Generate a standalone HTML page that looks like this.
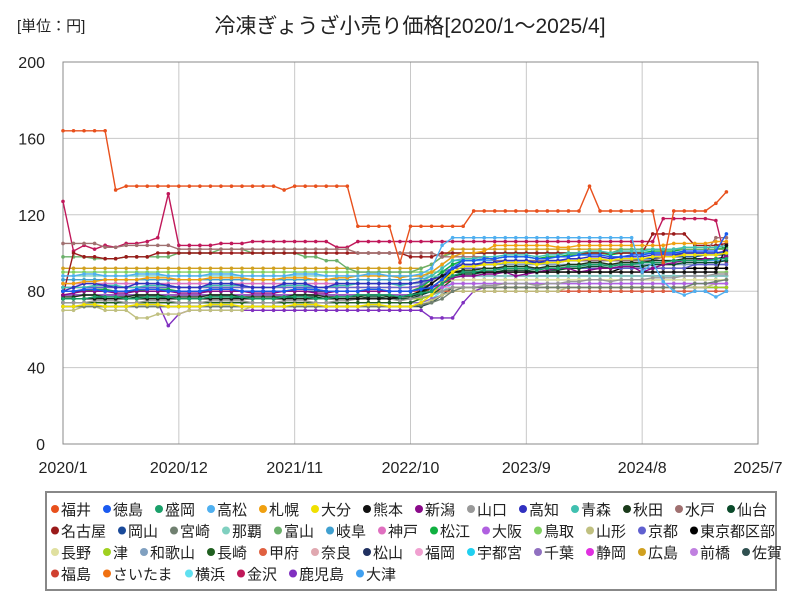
<!DOCTYPE html>
<html><head><meta charset="utf-8">
<style>
body{margin:0;background:#fff;font-family:"Liberation Sans","Noto Sans CJK JP",sans-serif;}
svg text{font-family:"Liberation Sans","Noto Sans CJK JP",sans-serif;}
</style></head>
<body>
<svg id="chart" width="800" height="600" xmlns="http://www.w3.org/2000/svg">
<text x="17" y="31" font-size="15" fill="#222">[単位：円]</text>
<text x="410" y="33" font-size="21" text-anchor="middle" fill="#222">冷凍ぎょうざ小売り価格[2020/1～2025/4]</text>
<g id="grid"></g>
<g id="series"></g>
<rect x="46" y="492" width="730" height="98" fill="#fff" stroke="#888" stroke-width="2"/>
<g id="legend"></g>
</svg>
<script>
const xLabels=["2020/1","2020/12","2021/11","2022/10","2023/9","2024/8","2025/7"];
const yTicks=[0,40,80,120,160,200];
const names=["福井","徳島","盛岡","高松","札幌","大分","熊本","新潟","山口","高知","青森","秋田","水戸","仙台",
"名古屋","岡山","宮崎","那覇","富山","岐阜","神戸","松江","大阪","鳥取","山形","京都","東京都区部",
"長野","津","和歌山","長崎","甲府","奈良","松山","福岡","宇都宮","千葉","静岡","広島","前橋","佐賀",
"福島","さいたま","横浜","金沢","鹿児島","大津"];
const colors=["#e8501c","#1a5af0","#1aa06a","#4fb0f0","#f0a010","#f0e000","#111111","#8a0a8a","#999999","#3030c0","#40c0b0","#1a3a1a","#a07070","#0a4a2a",
"#9a1a1a","#1a4a9a","#708070","#80d0c0","#6ab06a","#40a0d0","#e070c0","#10b040","#b060e0","#80d060","#c0c080","#6060d0","#000000",
"#e0e0a0","#a0d020","#80a0c0","#206020","#e06040","#e0a8b0","#203060","#f0a0d0","#20d0f0","#9070c0","#e030e0","#d0a020","#c080e0","#305050",
"#d04030","#f07010","#60e0f0","#c0185a","#8030c0","#40a0f0"];
const v=[
[164,164,164,164,164,133,135,135,135,135,135,135,135,135,135,135,135,135,135,135,135,133,135,135,135,135,135,135,114,114,114,114,95,114,114,114,114,114,114,122,122,122,122,122,122,122,122,122,122,122,135,122,122,122,122,122,122,95,122,122,122,122,126,132],
[80,80,81,81,80,80,80,81,81,81,80,80,80,80,81,81,81,80,80,80,80,80,81,81,81,80,80,80,80,81,81,80,80,80,81,82,86,92,96,96,97,97,98,98,98,97,97,98,98,99,99,99,98,98,99,99,100,100,100,101,101,101,101,110],
[76,76,76,77,77,77,76,76,77,77,77,76,76,76,77,77,77,77,76,76,76,77,77,77,76,76,77,77,78,78,78,78,77,78,79,80,84,88,90,90,91,91,92,92,92,91,92,92,93,93,94,94,93,94,94,95,95,95,96,96,96,96,97,97],
[88,88,89,89,88,88,88,89,89,89,88,88,88,88,89,89,89,88,88,88,88,88,89,89,89,88,88,88,88,89,89,88,88,88,89,92,104,108,108,108,108,108,108,108,108,108,108,108,108,108,108,108,108,108,108,90,95,85,80,78,80,80,77,80],
[84,84,85,85,86,86,86,86,87,87,87,86,86,86,87,87,87,87,86,86,86,87,87,87,86,86,87,87,88,88,88,88,87,88,88,90,94,98,100,100,101,104,104,104,104,104,104,103,103,104,104,104,104,104,104,104,104,104,105,105,105,105,106,106],
[72,72,73,73,72,72,72,73,73,73,72,72,72,72,73,73,73,72,72,72,72,72,73,73,73,72,72,72,72,73,73,72,72,72,74,78,85,90,93,93,94,94,95,95,95,94,95,95,96,96,97,97,96,97,97,97,98,98,98,99,99,99,99,100],
[76,76,76,76,76,76,76,76,76,76,76,76,76,76,76,76,76,76,76,76,76,76,76,76,76,76,76,76,76,76,76,76,77,78,80,84,88,90,90,90,90,90,90,90,90,90,90,90,90,90,90,90,90,90,90,90,90,90,90,90,90,90,90,104],
[78,79,80,80,80,79,79,80,80,80,80,79,79,79,80,80,80,80,79,79,79,80,80,80,79,79,80,80,80,80,80,80,80,80,81,82,84,87,88,88,89,89,90,88,89,90,91,92,92,90,91,92,92,93,93,90,92,94,95,96,96,97,97,98],
[74,74,74,75,75,75,74,74,75,75,75,74,74,74,75,75,75,75,74,74,74,75,75,75,74,74,75,75,76,76,76,76,75,76,77,78,80,82,82,82,83,83,84,84,84,83,84,84,85,85,86,86,85,86,86,86,87,87,87,88,88,88,89,89],
[80,82,84,84,83,82,82,84,84,84,83,82,82,82,84,84,84,83,82,82,82,84,84,84,82,82,84,84,84,84,84,84,84,84,85,86,88,92,94,94,95,95,96,96,96,95,96,96,97,97,98,98,97,98,98,98,99,99,99,100,100,100,100,101],
[82,82,82,83,83,83,82,82,83,83,83,82,82,82,83,83,83,83,82,82,82,83,83,83,82,82,83,83,84,84,84,84,83,84,85,88,92,96,97,97,98,98,99,99,99,98,99,99,100,100,101,101,100,101,101,101,102,102,102,103,103,103,103,104],
[77,77,78,78,77,77,77,78,78,78,77,77,77,77,78,78,78,77,77,77,77,77,78,78,78,77,77,77,77,78,78,77,77,77,79,82,86,90,91,91,92,92,93,93,93,92,93,93,94,94,95,95,94,95,95,95,96,96,96,97,97,97,97,98],
[105,105,105,105,103,103,104,104,104,104,104,102,102,102,102,102,102,102,102,102,102,102,102,102,102,102,102,102,100,100,100,100,100,100,100,100,98,98,98,98,98,96,96,96,96,96,96,96,96,96,96,96,96,96,96,96,96,98,98,100,100,100,108,108],
[76,76,76,77,76,76,76,77,77,77,76,76,76,76,77,77,77,76,76,76,76,76,77,77,77,76,76,76,76,77,77,76,76,76,78,80,84,88,89,89,90,90,91,91,91,90,91,91,92,92,93,93,92,93,93,93,94,94,94,95,95,95,95,96],
[78,100,98,98,97,97,98,98,98,100,100,100,100,100,100,100,100,100,100,100,100,100,100,100,100,100,100,100,100,100,100,100,100,98,98,98,100,100,100,100,100,100,100,100,100,100,100,100,100,100,100,100,100,100,100,100,110,110,110,110,104,104,104,105],
[80,80,80,80,80,80,80,80,80,80,80,80,80,80,80,80,80,80,80,80,80,80,80,80,80,80,80,80,80,80,80,80,80,80,81,84,88,92,94,94,94,94,95,95,95,95,95,95,96,96,96,96,96,96,96,97,97,98,98,98,98,99,99,99],
[72,72,72,72,72,72,72,72,72,72,72,72,72,72,72,72,72,72,72,72,72,72,72,72,72,72,72,72,72,72,72,72,72,72,73,74,76,80,82,82,82,82,82,82,82,82,82,82,82,82,82,82,82,82,82,82,82,82,82,82,84,84,85,86],
[88,88,88,88,88,88,88,88,88,88,88,88,88,88,88,88,88,88,88,88,88,88,88,88,88,88,88,88,88,88,88,88,88,88,88,88,88,88,88,88,88,88,88,88,88,88,88,88,88,88,88,88,88,88,88,88,88,88,88,88,88,88,88,88],
[98,98,98,97,97,97,98,98,98,98,98,100,100,100,100,102,102,102,100,100,100,100,100,98,98,96,96,92,90,90,90,90,90,90,92,94,98,100,100,100,100,100,100,100,100,100,100,100,100,100,100,100,100,102,102,102,102,102,102,102,102,102,102,102],
[86,86,86,86,86,86,86,86,86,86,86,86,86,86,86,86,86,86,86,86,86,86,86,86,86,86,86,86,86,86,86,86,86,86,87,90,94,98,100,100,100,100,100,100,100,100,100,100,100,100,100,100,100,100,100,100,100,100,100,100,100,100,100,100],
[84,84,84,84,84,84,84,84,84,84,84,84,84,84,84,84,84,84,84,84,84,84,84,84,84,84,84,84,84,84,84,84,84,84,85,86,88,88,88,88,88,88,88,88,88,88,88,88,88,88,88,88,88,88,88,88,88,88,88,88,88,88,88,88],
[80,80,80,81,81,80,80,80,81,81,81,80,80,80,81,81,81,80,80,80,80,80,81,81,81,80,80,80,80,81,81,80,80,80,82,86,90,94,96,96,97,97,98,98,98,97,98,98,99,99,100,100,99,100,100,100,101,101,101,102,102,102,102,103],
[78,78,78,78,78,78,78,78,78,78,78,78,78,78,78,78,78,78,78,78,78,78,78,78,78,78,78,78,78,78,78,78,78,78,78,80,82,84,84,84,84,84,84,84,84,84,84,84,84,84,84,84,84,84,84,84,84,84,84,84,84,84,84,84],
[90,90,90,90,90,90,90,90,90,90,90,90,90,90,90,90,90,90,90,90,90,90,90,90,90,90,90,90,90,90,90,90,90,90,90,90,90,90,90,90,90,90,90,90,90,90,90,90,90,90,90,90,90,90,90,90,90,90,90,90,90,90,90,90],
[70,70,72,72,70,70,70,66,66,68,68,68,70,70,70,70,70,70,72,72,72,72,72,72,72,72,72,72,72,72,72,72,72,72,73,75,78,80,80,80,80,80,80,80,80,80,80,80,82,82,82,82,82,82,82,82,82,82,82,82,82,82,84,84],
[82,82,82,82,82,82,82,82,82,82,82,82,82,82,82,82,82,82,82,82,82,82,82,82,82,82,82,82,82,82,82,82,82,82,83,86,90,92,92,92,92,92,92,92,92,92,92,92,92,92,92,92,92,92,92,92,92,92,92,92,94,94,94,94],
[78,78,78,78,78,78,78,78,78,78,78,78,78,78,78,78,78,78,78,78,78,78,78,78,78,78,78,78,78,78,78,78,78,78,80,82,86,90,90,90,90,90,90,90,90,90,90,90,90,90,90,90,90,92,92,92,92,92,92,92,92,92,92,92],
[86,86,86,86,86,86,86,86,86,86,86,86,86,86,86,86,86,86,86,86,86,86,86,86,86,86,86,86,86,86,86,86,86,86,86,86,86,86,86,86,86,86,86,86,86,86,86,86,86,86,86,86,86,86,86,86,86,86,86,86,86,86,86,86],
[76,76,76,76,76,76,76,76,76,76,76,76,76,76,76,76,76,76,76,76,76,76,76,76,76,76,76,76,76,76,76,76,76,76,76,78,80,82,82,82,82,82,82,82,82,82,82,82,82,82,82,82,82,82,82,82,82,82,82,82,82,82,82,82],
[84,84,84,84,84,84,84,84,84,84,84,84,84,84,84,84,84,84,84,84,84,84,84,84,84,84,84,84,84,84,84,84,84,84,84,86,90,94,94,94,94,94,94,94,94,94,94,94,94,94,94,94,94,94,94,94,94,94,94,94,94,94,94,94],
[74,74,74,74,74,74,74,74,74,74,74,74,74,74,74,74,74,74,74,74,74,74,74,74,74,74,74,74,74,74,74,74,74,74,76,78,82,86,86,86,86,86,86,86,86,86,86,86,86,86,86,86,86,86,86,86,86,86,86,86,86,86,86,86],
[80,80,80,80,80,80,80,80,80,80,80,80,80,80,80,80,80,80,80,80,80,80,80,80,80,80,80,80,80,80,80,80,80,80,80,80,80,80,80,80,80,80,80,80,80,80,80,80,80,80,80,80,80,80,80,80,80,80,80,80,80,80,80,80],
[86,86,86,86,86,86,86,86,86,86,86,86,86,86,86,86,86,86,86,86,86,86,86,86,86,86,86,86,86,86,86,86,86,86,86,86,86,86,86,86,86,86,86,86,86,86,86,86,86,86,86,86,86,86,86,86,86,86,86,86,86,86,86,86],
[76,76,76,76,76,76,76,76,76,76,76,76,76,76,76,76,76,76,76,76,76,76,76,76,76,76,76,76,76,76,76,76,76,76,78,82,86,88,88,88,88,88,88,88,88,88,88,88,88,88,88,88,88,88,88,88,88,88,88,88,88,88,88,88],
[82,82,82,82,82,82,82,82,82,82,82,82,82,82,82,82,82,82,82,82,82,82,82,82,82,82,82,82,82,82,82,82,82,82,82,82,82,82,82,82,82,82,82,82,82,82,82,82,82,82,82,82,82,82,82,82,82,82,82,82,82,82,82,82],
[78,78,78,78,78,78,78,78,78,78,78,78,78,78,78,78,78,78,78,78,78,78,78,78,78,78,78,78,78,78,78,78,78,78,78,80,84,88,88,88,88,88,88,88,88,88,88,88,88,88,88,88,88,88,88,88,88,88,88,88,88,88,88,88],
[74,74,74,74,74,74,74,74,74,74,74,74,74,74,74,74,74,74,74,74,74,74,74,74,74,74,74,74,74,74,74,74,74,74,74,76,78,80,80,80,80,80,80,80,80,80,80,80,80,80,80,80,80,80,80,80,80,80,80,80,80,80,80,80],
[80,80,80,80,80,80,80,80,80,80,80,80,80,80,80,80,80,80,80,80,80,80,80,80,80,80,80,80,80,80,80,80,80,80,80,82,86,90,90,90,90,90,90,90,90,90,90,90,90,90,90,90,90,90,90,90,90,90,90,90,90,90,90,90],
[92,92,92,92,92,92,92,92,92,92,92,92,92,92,92,92,92,92,92,92,92,92,92,92,92,92,92,92,92,92,92,92,92,92,92,94,98,102,102,102,102,102,102,102,102,102,102,102,102,102,102,102,102,102,102,102,102,102,102,102,102,102,102,102],
[80,80,80,80,80,80,80,80,80,80,80,80,80,80,80,80,80,80,80,80,80,80,80,80,80,80,80,80,80,80,80,80,80,80,80,80,82,84,84,84,84,84,84,84,84,84,84,84,84,84,84,84,84,84,84,84,84,84,84,84,84,84,84,84],
[72,72,72,72,72,72,72,72,72,72,72,72,72,72,72,72,72,72,72,72,72,72,72,72,72,72,72,72,72,72,72,72,72,72,72,74,78,82,82,82,82,82,82,82,82,82,82,82,82,82,82,82,82,82,82,82,82,82,82,82,82,82,82,82],
[78,78,78,78,78,78,78,78,78,78,78,78,78,78,78,78,78,78,78,78,78,78,78,78,78,78,78,78,78,78,78,78,78,78,78,80,84,86,86,86,86,86,86,86,86,86,86,86,86,86,86,86,86,86,86,86,86,86,86,86,86,86,86,86],
[82,82,82,82,82,82,82,82,82,82,82,82,82,82,82,82,82,82,82,82,82,82,82,82,82,82,82,82,82,82,82,82,82,82,82,84,88,92,92,92,92,92,92,92,92,92,92,92,92,92,92,92,92,92,92,92,92,92,92,92,92,92,92,92],
[74,74,74,74,74,74,74,74,74,74,74,74,74,74,74,74,74,74,74,74,74,74,74,74,74,74,74,74,74,74,74,74,74,74,74,76,80,84,84,84,84,84,84,84,84,84,84,84,84,84,84,84,84,84,84,84,84,84,84,84,84,84,84,84],
[127,101,104,102,104,103,105,105,106,108,131,104,104,104,104,105,105,105,106,106,106,106,106,106,106,106,103,103,106,106,106,106,106,106,106,106,106,106,106,106,106,106,106,106,106,106,106,106,106,106,106,106,106,106,106,106,106,118,118,118,118,118,117,95],
[74,74,74,74,74,74,74,74,74,74,62,68,70,70,70,70,70,70,70,70,70,70,70,70,70,70,70,70,70,70,70,70,70,70,70,66,66,66,74,80,82,82,82,82,82,82,82,82,82,82,82,82,82,82,82,82,82,82,82,82,82,82,82,82],
[86,86,86,86,86,86,86,86,86,86,86,86,86,86,86,86,86,86,86,86,86,86,86,86,86,86,86,86,86,86,86,86,86,86,86,88,92,96,96,96,96,96,96,96,96,96,96,96,96,96,96,96,96,96,96,96,96,96,96,96,96,96,96,96]
];
const X0=63,X1=758,Y0=444,Y1=62,NM=66;
const xs=i=>X0+i*(X1-X0)/NM;
const ys=val=>Y0-val*(Y0-Y1)/200;
const NS="http://www.w3.org/2000/svg";
const grid=document.getElementById('grid');
function mk(tag,attrs,parent){const e=document.createElementNS(NS,tag);for(const k in attrs)e.setAttribute(k,attrs[k]);parent.appendChild(e);return e;}
yTicks.forEach(t=>{
 if(t>0&&t<200){const l=mk('line',{x1:X0,x2:X1,y1:ys(t),y2:ys(t),stroke:'#c8c8c8'},grid);
 
 }
 const tx=mk('text',{x:45,y:ys(t)+6,'font-size':16,'text-anchor':'end',fill:'#222'},grid);tx.textContent=t;
 
 
});
xLabels.forEach((s,k)=>{
 const x=xs(k*11);
 if(k>0&&k<6){const l=mk('line',{x1:x,x2:x,y1:Y1,y2:Y0,stroke:'#c8c8c8'},grid);
 
 }
 const tx=mk('text',{x:x,y:473,'font-size':16,'text-anchor':'middle',fill:'#222'},grid);tx.textContent=s;
 
 
});
const fr=mk('rect',{x:X0,y:Y1,width:X1-X0,height:Y0-Y1,fill:'none',stroke:'#888'},grid);


const sg=document.getElementById('series');
for(let s=v.length-1;s>=0;s--){
 const d=v[s].map((val,i)=>(i?'L':'M')+xs(i).toFixed(1)+','+ys(val).toFixed(1)).join('');
 const p=mk('path',{d:d,fill:'none',stroke:colors[s],'stroke-width':1.4},sg);
 
 
 v[s].forEach((val,i)=>{const c=mk('circle',{cx:xs(i),cy:ys(val),r:1.8,fill:colors[s]},sg);
 
 });
}
const rows=[14,13,14,6];const lg=document.getElementById('legend');
let idx=0;
rows.forEach((n,r)=>{let x=50;const y=509+r*21.5;
 for(let j=0;j<n;j++){const nm=names[idx];
  const g=mk('g',{},lg);
  
  
  mk('circle',{cx:x+5,cy:y,r:4,fill:colors[idx]},g);
  const t=mk('text',{x:x+11,y:y+6,'font-size':15,fill:'#222'},g);t.textContent=nm;
  x+=11+nm.length*15+11; idx++;}
});
</script>
</body></html>
